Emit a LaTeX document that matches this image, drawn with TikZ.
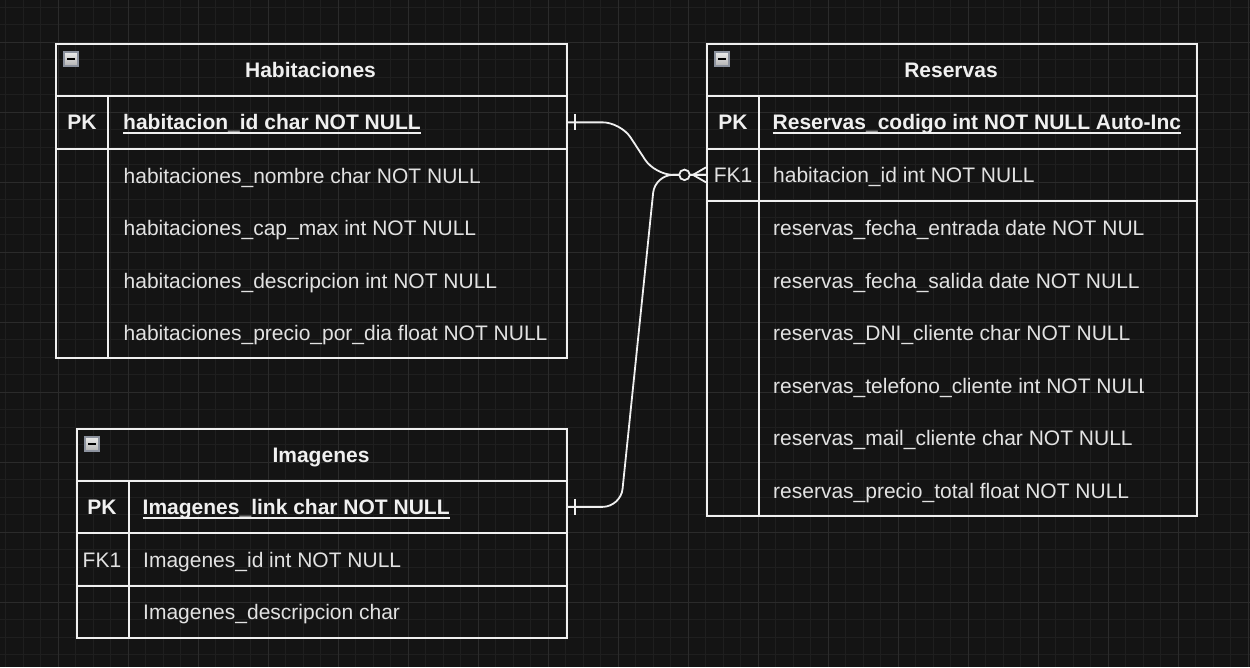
\documentclass[tikz,border=0pt]{standalone}
\usepackage{fontspec}
\setmainfont{Liberation Sans}

\definecolor{canvas}{HTML}{141414}
\definecolor{gridminor}{HTML}{1F1F1F}
\definecolor{gridmajor}{HTML}{2B2B2B}
\definecolor{ink}{HTML}{F0F0F0}
\definecolor{inkdim}{HTML}{E2E2E2}
\definecolor{iconedge}{HTML}{8C929E}

\newcommand{\erfont}{\fontsize{21pt}{25pt}\selectfont}
\newcommand{\pkline}[1]{\draw[underl] ([yshift=-3.5pt]#1.base west) -- ([yshift=-3.5pt]#1.base east);}

\begin{document}
\begin{tikzpicture}[x=1pt, y=-1pt,
    tblpart/.style = {draw=ink, line width=1.7pt, inner sep=0pt, anchor=north west},
    colline/.style = {draw=ink, line width=1.7pt},
    titletxt/.style = {font=\erfont\bfseries, text=ink, anchor=base, inner sep=0pt},
    keytxt/.style = {font=\erfont\bfseries, text=ink, anchor=base, inner sep=0pt},
    fktxt/.style = {font=\erfont, text=inkdim, anchor=base, inner sep=0pt},
    pktxt/.style = {font=\erfont\bfseries, text=ink, anchor=base west, inner sep=0pt},
    fieldtxt/.style = {font=\erfont, text=inkdim, anchor=base west, inner sep=0pt},
    underl/.style = {draw=ink, line width=1.5pt},
    iconbox/.style = {draw=iconedge, line width=1.8pt, top color=white!92!black, bottom color=white!70!black, minimum size=14pt, inner sep=0pt},
    relline/.style = {draw=ink, line width=1.8pt},
    zerocircle/.style = {circle, draw=ink, fill=canvas, line width=1.8pt, minimum size=10.5pt, inner sep=0pt}]

    % Background and grid
    \useasboundingbox (0,0) rectangle (1250,667);
    \fill[canvas] (0,0) rectangle (1250,667);
    \foreach \gx in {0,...,71}
        \draw[gridminor, line width=0.9pt] ({5.8+17.5*\gx},0) -- ({5.8+17.5*\gx},667);
    \foreach \gy in {0,...,38}
        \draw[gridminor, line width=0.9pt] (0,{7.3+17.5*\gy}) -- (1250,{7.3+17.5*\gy});
    \foreach \gx in {0,...,17}
        \draw[gridmajor, line width=1pt] ({58.3+70*\gx},0) -- ({58.3+70*\gx},667);
    \foreach \gy in {0,...,8}
        \draw[gridmajor, line width=1pt] (0,{42.3+70*\gy}) -- (1250,{42.3+70*\gy});

    % Habitaciones
    \node[tblpart, minimum width=511pt, minimum height=52pt] (habhead) at (55,43) {};
    \node[tblpart, minimum width=511pt, minimum height=53pt] (habpk) at (55,95) {};
    \node[tblpart, minimum width=511pt, minimum height=209pt] (habbody) at (55,148) {};
    \draw[colline] ([xshift=53pt]habpk.north west) -- ([xshift=53pt]habbody.south west);
    \node[iconbox] (habicon) at (71,59) {\textcolor{black}{\rule{8pt}{2.4pt}}};
    \node[titletxt] (habtitle) at (310.5,77.5) {Habitaciones};
    \node[keytxt] (habkey) at (82,129.5) {PK};
    \node[pktxt] (habid) at (123,129.5) {habitacion\_id char NOT NULL};
    \pkline{habid}
    \node[fieldtxt] (habnombre) at (123.5,183) {habitaciones\_nombre char NOT NULL};
    \node[fieldtxt] (habcap) at (123.5,235.5) {habitaciones\_cap\_max int NOT NULL};
    \node[fieldtxt] (habdesc) at (123.5,288) {habitaciones\_descripcion int NOT NULL};
    \node[fieldtxt] (habprecio) at (123.5,340.5) {habitaciones\_precio\_por\_dia float NOT NULL};

    % Reservas
    \node[tblpart, minimum width=490pt, minimum height=52pt] (reshead) at (706,43) {};
    \node[tblpart, minimum width=490pt, minimum height=53pt] (respk) at (706,95) {};
    \node[tblpart, minimum width=490pt, minimum height=52pt] (resfk) at (706,148) {};
    \node[tblpart, minimum width=490pt, minimum height=315pt] (resbody) at (706,200) {};
    \draw[colline] ([xshift=53pt]respk.north west) -- ([xshift=53pt]resbody.south west);
    \node[iconbox] (resicon) at (722,59) {\textcolor{black}{\rule{8pt}{2.4pt}}};
    \node[titletxt] (restitle) at (951,77.5) {Reservas};
    \node[keytxt] (reskey) at (733,129.5) {PK};
    \node[pktxt] (rescodigo) at (772.5,129.5) {Reservas\_codigo int NOT NULL Auto-Inc};
    \pkline{rescodigo}
    \node[fktxt] (resfkkey) at (733,182.5) {FK1};
    \node[fieldtxt] (reshab) at (773,182.5) {habitacion\_id int NOT NULL};
    \begin{scope}
        \clip (759,200) rectangle (1143,515);
        \node[fieldtxt] (resentrada) at (773,235.5) {reservas\_fecha\_entrada date NOT NULL};
        \node[fieldtxt] (ressalida) at (773,288) {reservas\_fecha\_salida date NOT NULL};
        \node[fieldtxt] (resdni) at (773,340.5) {reservas\_DNI\_cliente char NOT NULL};
        \node[fieldtxt] (restel) at (773,393) {reservas\_telefono\_cliente int NOT NULL};
        \node[fieldtxt] (resmail) at (773,445.5) {reservas\_mail\_cliente char NOT NULL};
        \node[fieldtxt] (restotal) at (773,498) {reservas\_precio\_total float NOT NULL};
    \end{scope}

    % Imagenes
    \node[tblpart, minimum width=490pt, minimum height=52pt] (imghead) at (76,428) {};
    \node[tblpart, minimum width=490pt, minimum height=52pt] (imgpk) at (76,480) {};
    \node[tblpart, minimum width=490pt, minimum height=53pt] (imgfk) at (76,532) {};
    \node[tblpart, minimum width=490pt, minimum height=52pt] (imgbody) at (76,585) {};
    \draw[colline] ([xshift=53pt]imgpk.north west) -- ([xshift=53pt]imgbody.south west);
    \node[iconbox] (imgicon) at (92,444) {\textcolor{black}{\rule{8pt}{2.4pt}}};
    \node[titletxt] (imgtitle) at (321,462.5) {Imagenes};
    \node[keytxt] (imgkey) at (102,514.5) {PK};
    \node[pktxt] (imglink) at (142.5,514.5) {Imagenes\_link char NOT NULL};
    \pkline{imglink}
    \node[fktxt] (imgfkkey) at (102,567.5) {FK1};
    \node[fieldtxt] (imgid) at (143,567.5) {Imagenes\_id int NOT NULL};
    \node[fieldtxt] (imgdesc) at (143,619.5) {Imagenes\_descripcion char};

    % Relations
    \draw[relline, rounded corners=18pt] (habpk.east) -- ++(53,0) -- ([xshift=-51pt]resfk.west) -- (resfk.west);
    \draw[relline, rounded corners=18pt] (imgpk.east) -- ++(53,0) -- ([xshift=-51pt]resfk.west) -- (resfk.west);
    \draw[relline] ([shift={(7,-8)}]habpk.east) -- ([shift={(7,8)}]habpk.east);
    \draw[relline] ([shift={(7,-8)}]imgpk.east) -- ([shift={(7,8)}]imgpk.east);
    \node[zerocircle] (zeromark) at ([xshift=-21.5pt]resfk.west) {};
    \draw[relline] ([xshift=-13pt]resfk.west) -- ([shift={(0,-7.5)}]resfk.west);
    \draw[relline] ([xshift=-13pt]resfk.west) -- ([shift={(0,7.5)}]resfk.west);
\end{tikzpicture}
\end{document}
